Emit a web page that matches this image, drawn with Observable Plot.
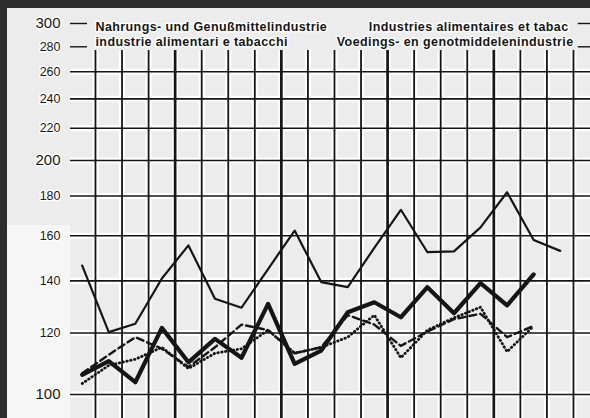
<!DOCTYPE html>
<html><head><meta charset="utf-8">
<script src="https://cdn.jsdelivr.net/npm/d3@7"></script>
<script src="https://cdn.jsdelivr.net/npm/@observablehq/plot@0.6"></script>
<style>
html,body{margin:0;padding:0;width:590px;height:418px;overflow:hidden;background:#2e2e2e;}
#paper{position:absolute;left:7px;top:8px;width:583px;height:410px;background:#ececec;}
#lower{position:absolute;left:7px;top:225px;width:63px;height:193px;background:#f6f6f6;}
#chart{position:absolute;left:0;top:0;}
</style></head><body>
<div id="paper"></div><div id="lower"></div><div id="chart"></div>
<script>
// quarterly periods (index of each quarter on the x axis)
const periods = [0,1,2,3,4,5,6,7,8,9,10,11,12,13,14,15,16,17,18];
const thinLine   = [146.5,120.3,123.3,141,155.5,132.8,129.3,145,162.5,139.5,137.4,154.4,172.8,152.4,152.8,164,182,158,153];
const thickLine  = [106,110.4,103.7,121.8,110,117.9,111.5,130.8,109.5,113.9,127.6,131.4,125.7,137.4,127.2,139.1,130.2,142.7];
const dashedLine = [106.5,112.5,118.5,114.5,108.5,115,123,121,113,115,126.5,123,115.5,120.5,125,127,118.5,122.5];
const dottedLine = [103.3,109,111,115,108,113,114.5,121,113,115,118.5,126.5,111.5,121,125.5,129.5,113.5,122.5];
const yearEnds = [3,7,11,15];
const gridValues = [100,120,140,160,180,200,220,240,260];
const majorTicks = [100,200,300];
const minorTicks = [120,140,160,180,220,240,260,280];
const shortTicks = [300,280];
const titleLeft = ["Nahrungs- und Genußmittelindustrie","industrie alimentari e tabacchi"];
const titleRight = ["Industries alimentaires et tabac","Voedings- en genotmiddelenindustrie"];

const boundaries = periods.map(p => p + 0.5);
const normalB = boundaries.filter(b => !yearEnds.includes(b - 0.5));
const yearB = boundaries.filter(b => yearEnds.includes(b - 0.5));
const ink = "#151515";
const font = "'Liberation Sans', Arial, sans-serif";
const titleStyle = {fontSize: 12.5, fontWeight: "bold", fill: ink, stroke: "white", strokeWidth: 3};

const chart = Plot.plot({
  width: 590, height: 418,
  marginLeft: 70, marginRight: 0, marginTop: 0, marginBottom: 0,
  style: {background: "transparent", fontFamily: font, overflow: "visible"},
  x: {type: "linear", domain: [0, 18], range: [81.7, 559.7], axis: null},
  y: {type: "log", domain: [100, 300], range: [394, 23], axis: null},
  marks: [
    // white halos of the printed grid
    Plot.ruleX(boundaries, {x: d => d, y1: 277, y2: 90, stroke: "white", strokeWidth: 6}),
    Plot.ruleY(gridValues, {y: d => d, stroke: "white", strokeWidth: 6}),
    // grid
    Plot.ruleX(normalB, {x: d => d, y1: 277, y2: 90, stroke: ink, strokeWidth: 1.8}),
    Plot.ruleX(yearB, {x: d => d, y1: 277, y2: 90, stroke: ink, strokeWidth: 2.7}),
    Plot.ruleY(gridValues, {y: d => d, stroke: ink, strokeWidth: 1.6}),
    Plot.ruleY(shortTicks, {y: d => d, x1: -0.44, x2: 0.2, stroke: ink, strokeWidth: 1.4}),
    Plot.ruleY(shortTicks, {y: d => d, x1: 18.68, x2: 19.2, stroke: ink, strokeWidth: 1.4}),
    // tick labels
    Plot.text(majorTicks, {y: d => d, text: d => String(d), frameAnchor: "left", dx: -10, textAnchor: "end",
      fontSize: 15, fill: ink, stroke: "white", strokeWidth: 3}),
    Plot.text(minorTicks, {y: d => d, text: d => String(d), frameAnchor: "left", dx: -10, textAnchor: "end",
      fontSize: 12.5, fill: ink, stroke: "white", strokeWidth: 3}),
    // series
    Plot.line(dottedLine, {x: (d, i) => periods[i], y: d => d, stroke: ink, strokeWidth: 2.8,
      strokeDasharray: "0.5,3.4", strokeLinecap: "round"}),
    Plot.line(dashedLine, {x: (d, i) => periods[i], y: d => d, stroke: ink, strokeWidth: 2.4,
      strokeDasharray: "7,4"}),
    Plot.line(thinLine, {x: (d, i) => periods[i], y: d => d, stroke: ink, strokeWidth: 2.2}),
    Plot.line(thickLine, {x: (d, i) => periods[i], y: d => d, stroke: ink, strokeWidth: 4.2}),
    // titles
    Plot.text([titleLeft[0]], {text: d => d, frameAnchor: "top-left", dx: 25, dy: 22, textAnchor: "start", ...titleStyle}),
    Plot.text([titleLeft[1]], {text: d => d, frameAnchor: "top-left", dx: 25, dy: 37, textAnchor: "start", ...titleStyle}),
    Plot.text([titleRight[0]], {text: d => d, frameAnchor: "top-right", dx: -22, dy: 22, textAnchor: "end", ...titleStyle}),
    Plot.text([titleRight[1]], {text: d => d, frameAnchor: "top-right", dx: -17, dy: 37, textAnchor: "end", ...titleStyle})
  ]
});
const titles = new Set([...titleLeft, ...titleRight]);
d3.select(chart).selectAll("text").filter(function() { return titles.has(this.textContent); })
  .style("letter-spacing", "0.4px");
document.getElementById("chart").append(chart);
</script>
</body></html>
